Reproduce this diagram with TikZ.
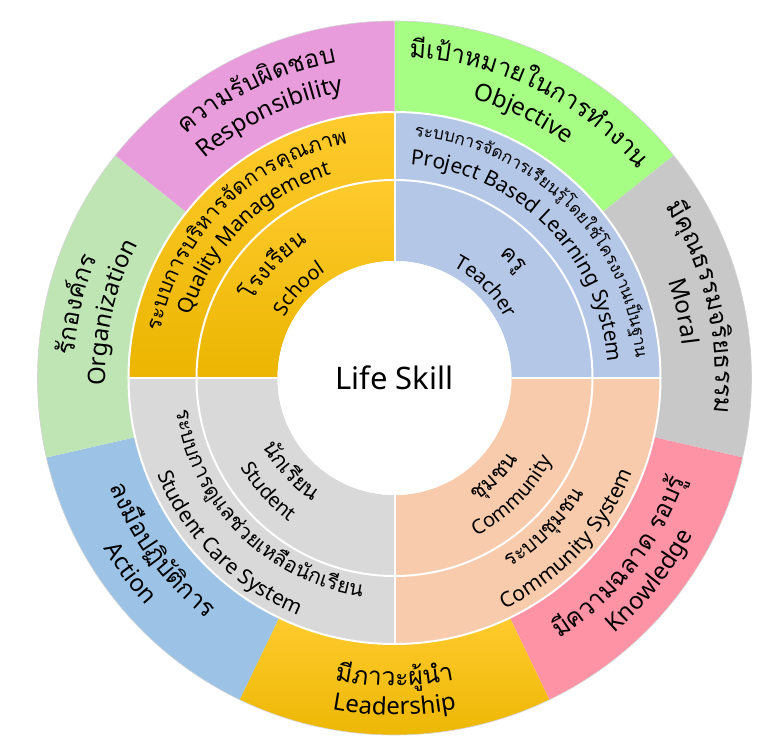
\documentclass[tikz,border=0pt]{standalone}
\usepackage{fontspec}
\setmainfont{Noto Sans}
\newfontfamily\thaifont[Script=Thai]{Loma}
\usetikzlibrary{decorations.text}
\definecolor{resp}{HTML}{E89CDC}
\definecolor{obj}{HTML}{A6FF84}
\definecolor{moral}{HTML}{C8C8C8}
\definecolor{know}{HTML}{FF93A6}
\definecolor{act}{HTML}{9CC3E6}
\definecolor{org}{HTML}{C0E5B5}
\definecolor{teacher}{HTML}{B4C7E7}
\definecolor{comm}{HTML}{F9CBAD}
\definecolor{student}{HTML}{D9D9D9}
\definecolor{goldtop}{HTML}{FFCB2E}
\definecolor{goldbot}{HTML}{EBB500}
\newcommand\outthai{\thaifont\fontsize{25}{29}\selectfont}
\newcommand\outeng{\fontsize{24}{28}\selectfont}
\newcommand\bandthai{\thaifont\fontsize{21}{25}\selectfont}
\newcommand\smallthai{\thaifont\fontsize{17}{20}\selectfont}
\newcommand\bandeng{\fontsize{21}{25}\selectfont}
\newcommand\inthai{\thaifont\fontsize{22}{26}\selectfont}
\newcommand\ineng{\fontsize{20}{24}\selectfont}
\tikzset{
	curved/.style={decorate, decoration={text along path, text align=center, text={#1}}},
	white line/.style={draw=white, line width=2pt},
	respseg/.style={fill=resp},
	objseg/.style={fill=obj},
	moralseg/.style={fill=moral},
	knowseg/.style={fill=know},
	leadseg/.style={top color=goldtop, bottom color=goldbot},
	actseg/.style={fill=act},
	orgseg/.style={fill=org},
	schoolseg/.style={top color=goldtop, bottom color=goldbot},
	teacherseg/.style={fill=teacher},
	commseg/.style={fill=comm},
	studentseg/.style={fill=student}
}

\begin{document}
\begin{tikzpicture}
	\useasboundingbox (-394.5pt,-360pt) rectangle (378.5pt,378pt);
	% outer ring, seven segments
	\foreach \s/\a in {objseg/90, moralseg/38.57, knowseg/-12.86, leadseg/-64.29, actseg/-115.71, orgseg/-167.14, respseg/141.43}
	\path[\s] (\a:357pt) arc[start angle=\a, end angle=\a-51.43, radius=357pt] -- (\a-51.43:266pt) arc[start angle=\a-51.43, end angle=\a, radius=266pt] -- cycle;
	\draw[gray!35, line width=0.6pt] (0,0) circle[radius=357pt];
	% middle ring, four quadrants
	\foreach \s/\a in {teacherseg/0, schoolseg/90, studentseg/180, commseg/270}
	\foreach \ri/\ro in {117/198, 198/266}
	\path[\s] (\a:\ro pt) arc[start angle=\a, end angle=\a+90, radius=\ro pt] -- (\a+90:\ri pt) arc[start angle=\a+90, end angle=\a, radius=\ri pt] -- cycle;
	\draw[white line] (0,0) circle[radius=266pt];
	\draw[white line] (0,0) circle[radius=198pt];
	\foreach \a in {0,90,180,270}
	\draw[white line] (\a:117pt) -- (\a:266pt);
	\fill[white] (0,0) circle[radius=117pt];
	\node (life) at (0,0) {\fontsize{31}{37}\selectfont Life Skill};
	
	% outer labels
	\path[curved={|\outthai|ความ{รั}บ{ผิ}ดชอบ}] (150:321pt) arc[start angle=150, end angle=81, radius=321pt];
	\path[curved={|\outeng|Responsibility}] (150:290pt) arc[start angle=150, end angle=81, radius=290pt];
	\path[curved={|\outthai|{มี}เ{ป้}าหมายในการ{ทำ}งาน}] (99:321pt) arc[start angle=99, end angle=29, radius=321pt];
	\path[curved={|\outeng|Objective}] (99:290pt) arc[start angle=99, end angle=29, radius=290pt];
	\path[curved={|\outthai|{มี}{คุ}ณธรรมจ{ริ}ยธรรม}] (48:321pt) arc[start angle=48, end angle=-22, radius=321pt];
	\path[curved={|\outeng|Moral}] (48:290pt) arc[start angle=48, end angle=-22, radius=290pt];
	\path[curved={|\outthai|{รั}กอง{ค์}กร}] (202:321pt) arc[start angle=202, end angle=132, radius=321pt];
	\path[curved={|\outeng|Organization}] (202:289pt) arc[start angle=202, end angle=132, radius=289pt];
	\path[curved={|\outthai|{มี}ความฉลาด รอบ{รู้}}] (-74:308pt) arc[start angle=-74, end angle=-3, radius=308pt];
	\path[curved={|\outeng|Knowledge}] (-74:337pt) arc[start angle=-74, end angle=-3, radius=337pt];
	\path[curved={|\outthai|{มี}ภาวะ{ผู้}{นำ}}] (235:308pt) arc[start angle=235, end angle=305, radius=308pt];
	\path[curved={|\outeng|Leadership}] (235:337pt) arc[start angle=235, end angle=305, radius=337pt];
	\path[curved={|\outthai|ลง{มื}อป{ฏิ}{บั}{ติ}การ}] (181:305pt) arc[start angle=181, end angle=252, radius=305pt];
	\path[curved={|\outeng|Action}] (181:337pt) arc[start angle=181, end angle=252, radius=337pt];
	
	% band labels
	\path[curved={|\bandthai|ระบบการบ{ริ}หาร{จั}ดการ{คุ}ณภาพ}] (185:239pt) arc[start angle=185, end angle=85, radius=239pt];
	\path[curved={|\bandeng|Quality Management}] (185:213pt) arc[start angle=185, end angle=85, radius=213pt];
	\path[curved={|\smallthai|ระบบการ{จั}ดการเ{รี}ยน{รู้}โดยใ{ช้}โครงงานเ{ป็}นฐาน}] (95:242pt) arc[start angle=95, end angle=-5, radius=242pt];
	\path[curved={|\bandeng|Project Based Learning System}] (95:214pt) arc[start angle=95, end angle=-5, radius=214pt];
	\path[curved={|\bandthai|ระบบ{ชุ}มชน}] (265:222pt) arc[start angle=265, end angle=365, radius=222pt];
	\path[curved={|\bandeng|Community System}] (267:256pt) arc[start angle=267, end angle=367, radius=256pt];
	\path[curved={|\bandthai|ระบบการ{ดู}แล{ช่}วยเห{ลื}อ{นั}กเ{รี}ยน}] (175:221pt) arc[start angle=175, end angle=275, radius=221pt];
	\path[curved={|\bandeng|Student Care System}] (175:256pt) arc[start angle=175, end angle=275, radius=256pt];
	
	% inner labels
	\path[curved={|\inthai|โรงเ{รี}ยน}] (182:161pt) arc[start angle=182, end angle=92, radius=161pt];
	\path[curved={|\ineng|School}] (182:126pt) arc[start angle=182, end angle=92, radius=126pt];
	\path[curved={|\inthai|ค{รู}}] (90:162pt) arc[start angle=90, end angle=0, radius=162pt];
	\path[curved={|\ineng|Teacher}] (90:126pt) arc[start angle=90, end angle=0, radius=126pt];
	\path[curved={|\inthai|{ชุ}มชน}] (270:148pt) arc[start angle=270, end angle=360, radius=148pt];
	\path[curved={|\ineng|Community}] (270:178pt) arc[start angle=270, end angle=360, radius=178pt];
	\path[curved={|\inthai|{นั}กเ{รี}ยน}] (177:148pt) arc[start angle=177, end angle=267, radius=148pt];
	\path[curved={|\ineng|Student}] (177:178pt) arc[start angle=177, end angle=267, radius=178pt];
\end{tikzpicture}
\end{document}
